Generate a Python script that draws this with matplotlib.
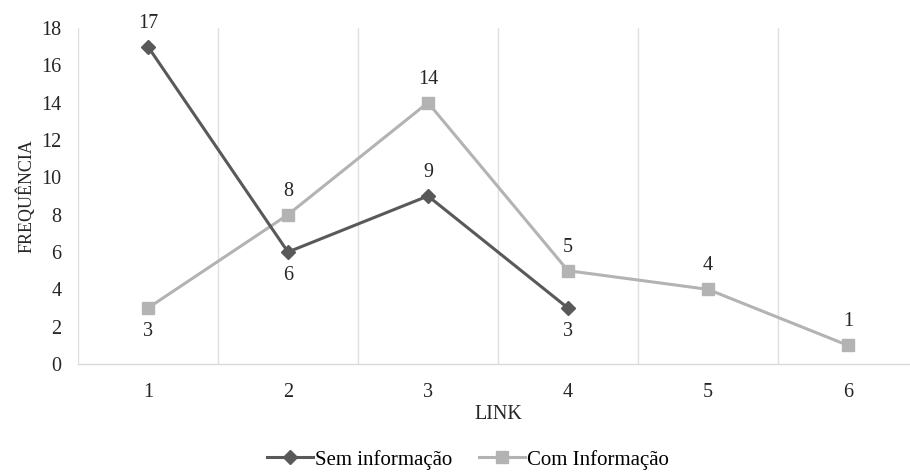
import matplotlib
matplotlib.use("Agg")
import matplotlib.pyplot as plt
from matplotlib.lines import Line2D

categories = ["1", "2", "3", "4", "5", "6"]
sem_info = [17, 6, 9, 3]
com_info = [3, 8, 14, 5, 4, 1]
sem_pos = ["above", "below", "above", "below"]
com_pos = ["below", "above", "above", "above", "above", "above"]

plt.rcParams['font.family'] = ['Liberation Serif', 'DejaVu Serif']

fig = plt.figure(figsize=(9.10, 4.74), dpi=100)
ax = fig.add_axes([0.0857, 0.232, 0.923, 0.709])

dark = '#595959'
light = '#b3b3b3'
txt = '#262626'
fs = 14.5

x_sem = list(range(1, len(sem_info) + 1))
x_com = list(range(1, len(com_info) + 1))
ax.plot(x_com, com_info, color=light, lw=2.2, marker='s', ms=9, label='Com Informação', zorder=3)
ax.plot(x_sem, sem_info, color=dark, lw=2.2, marker='D', ms=7, label='Sem informação', zorder=4)

def annotate(xs, ys, pos):
    for x, y, p in zip(xs, ys, pos):
        off = 17 if p == 'above' else -17
        ax.annotate(str(y), (x, y), xytext=(0, off), textcoords='offset points',
                    ha='center', va='center', fontsize=fs, color=txt)

annotate(x_sem, sem_info, sem_pos)
annotate(x_com, com_info, com_pos)

ax.set_xlim(0.5, 6.5)
ax.set_ylim(0, 18)
ax.set_yticks(range(0, 19, 2))
ax.set_xticks(x_com)
ax.set_xticklabels(categories)
for gx in [0.5, 1.5, 2.5, 3.5, 4.5, 5.5, 6.5]:
    ax.axvline(gx, color='#e0e0e0', lw=1, zorder=0)
for s in ['top', 'right', 'left']:
    ax.spines[s].set_visible(False)
ax.spines['bottom'].set_color('#d9d9d9')
ax.spines['bottom'].set_linewidth(1)
ax.tick_params(axis='both', length=0, labelsize=fs, colors=txt)
ax.tick_params(axis='x', pad=14)
ax.tick_params(axis='y', pad=12)
ax.set_xlabel('LINK', fontsize=fs, color=txt, labelpad=2)
ax.set_ylabel('FREQUÊNCIA', fontsize=13, color=txt, labelpad=4)

handles = [
    Line2D([], [], color=dark, lw=2.2, marker='D', ms=7),
    Line2D([], [], color=light, lw=2.2, marker='s', ms=9),
]
fig.legend(handles, ['Sem informação', 'Com Informação'], loc='center',
           bbox_to_anchor=(0.514, 0.03), ncol=2, frameon=False, fontsize=15,
           handlelength=2.2, handletextpad=0.1, columnspacing=1.3,
           borderpad=0.2)

fig.savefig('out.png', dpi=100)
